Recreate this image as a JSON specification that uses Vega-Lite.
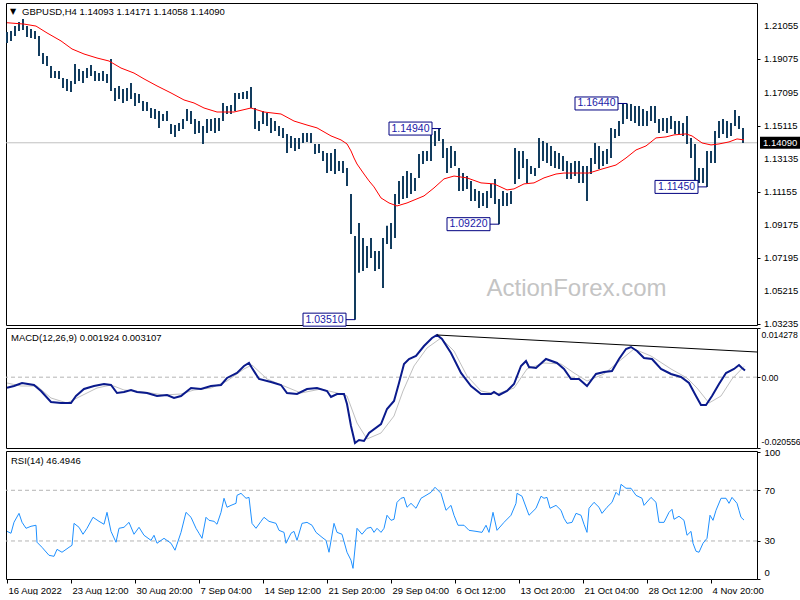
{
"$schema":"https://vega.github.io/schema/vega-lite/v6.json",
"padding":{"left":2,"top":2,"right":0,"bottom":0},
"spacing":3,
"bounds":"flush",
"background":"white",
"config":{"font":"Liberation Sans","view":{"stroke":"#000000","strokeWidth":1},
"axis":{"labelFont":"Liberation Sans","labelFontSize":9.5,"labelColor":"#000000","tickColor":"#000000","domain":false,"grid":false,"tickSize":3,"labelPadding":4,"labelOverlap":false}},
"datasets":{
"yt":[{"v":1.03235},{"v":1.05215},{"v":1.07195},{"v":1.09175},{"v":1.11155},{"v":1.13135},{"v":1.15115},{"v":1.17095},{"v":1.19075},{"v":1.21055}],
"px":[
{"i":0,"h":1.2072,"l":1.2006},{"i":2,"h":1.2078,"l":1.2018},{"i":4,"h":1.2107,"l":1.2048},{"i":6,"h":1.2131,"l":1.2078},{"i":8,"h":1.2149,"l":1.2084},{"i":10,"h":1.2107,"l":1.2042},{"i":12,"h":1.2090,"l":1.2036},{"i":14,"h":1.2078,"l":1.2030},{"i":16,"h":1.2048,"l":1.1928},{"i":18,"h":1.1946,"l":1.1880},
{"i":20,"h":1.1928,"l":1.1868},{"i":22,"h":1.1868,"l":1.1797},{"i":24,"h":1.1838,"l":1.1797},{"i":26,"h":1.1838,"l":1.1791},{"i":28,"h":1.1797,"l":1.1737},{"i":30,"h":1.1791,"l":1.1719},{"i":32,"h":1.1779,"l":1.1713},{"i":34,"h":1.1880,"l":1.1761},{"i":36,"h":1.1850,"l":1.1779},{"i":38,"h":1.1838,"l":1.1767},
{"i":40,"h":1.1856,"l":1.1797},{"i":42,"h":1.1874,"l":1.1808},{"i":44,"h":1.1838,"l":1.1779},{"i":46,"h":1.1826,"l":1.1779},{"i":48,"h":1.1838,"l":1.1779},{"i":50,"h":1.1820,"l":1.1767},{"i":52,"h":1.1910,"l":1.1719},{"i":54,"h":1.1737,"l":1.1659},{"i":56,"h":1.1749,"l":1.1671},{"i":58,"h":1.1731,"l":1.1647},
{"i":60,"h":1.1737,"l":1.1659},{"i":62,"h":1.1767,"l":1.1671},{"i":64,"h":1.1707,"l":1.1629},{"i":66,"h":1.1701,"l":1.1647},{"i":68,"h":1.1659,"l":1.1599},{"i":70,"h":1.1653,"l":1.1599},{"i":72,"h":1.1617,"l":1.1557},{"i":74,"h":1.1611,"l":1.1551},{"i":76,"h":1.1599,"l":1.1498},{"i":78,"h":1.1581,"l":1.1539},
{"i":80,"h":1.1599,"l":1.1539},{"i":82,"h":1.1521,"l":1.1462},{"i":84,"h":1.1515,"l":1.1444},{"i":86,"h":1.1527,"l":1.1480},{"i":88,"h":1.1551,"l":1.1492},{"i":90,"h":1.1611,"l":1.1539},{"i":92,"h":1.1599,"l":1.1521},{"i":94,"h":1.1551,"l":1.1462},{"i":96,"h":1.1539,"l":1.1468},{"i":98,"h":1.1509,"l":1.1402},
{"i":100,"h":1.1551,"l":1.1468},{"i":102,"h":1.1551,"l":1.1480},{"i":104,"h":1.1557,"l":1.1468},{"i":106,"h":1.1557,"l":1.1480},{"i":108,"h":1.1647,"l":1.1539},{"i":110,"h":1.1629,"l":1.1581},{"i":112,"h":1.1635,"l":1.1581},{"i":114,"h":1.1707,"l":1.1599},{"i":116,"h":1.1707,"l":1.1671},{"i":118,"h":1.1713,"l":1.1671},
{"i":120,"h":1.1719,"l":1.1671},{"i":122,"h":1.1743,"l":1.1617},{"i":124,"h":1.1617,"l":1.1492},{"i":126,"h":1.1539,"l":1.1480},{"i":128,"h":1.1599,"l":1.1521},{"i":130,"h":1.1587,"l":1.1509},{"i":132,"h":1.1557,"l":1.1468},{"i":134,"h":1.1539,"l":1.1480},{"i":136,"h":1.1509,"l":1.1450},{"i":138,"h":1.1498,"l":1.1438},
{"i":140,"h":1.1462,"l":1.1348},{"i":142,"h":1.1450,"l":1.1378},{"i":144,"h":1.1438,"l":1.1360},{"i":146,"h":1.1438,"l":1.1372},{"i":148,"h":1.1468,"l":1.1408},{"i":150,"h":1.1468,"l":1.1414},{"i":152,"h":1.1468,"l":1.1408},{"i":154,"h":1.1402,"l":1.1342},{"i":156,"h":1.1402,"l":1.1348},{"i":158,"h":1.1360,"l":1.1300},
{"i":160,"h":1.1348,"l":1.1228},{"i":162,"h":1.1348,"l":1.1240},{"i":164,"h":1.1372,"l":1.1222},{"i":166,"h":1.1300,"l":1.1240},{"i":168,"h":1.1300,"l":1.1228},{"i":170,"h":1.1258,"l":1.1151},{"i":172,"h":1.1103,"l":1.0864},{"i":174,"h":1.0852,"l":1.0351},{"i":176,"h":1.0929,"l":1.0631},{"i":178,"h":1.0840,"l":1.0642},
{"i":180,"h":1.0792,"l":1.0660},{"i":182,"h":1.0840,"l":1.0720},{"i":184,"h":1.0762,"l":1.0642},{"i":186,"h":1.0762,"l":1.0654},{"i":188,"h":1.0840,"l":1.0541},{"i":190,"h":1.0912,"l":1.0804},{"i":192,"h":1.0929,"l":1.0774},{"i":194,"h":1.1103,"l":1.0840},{"i":196,"h":1.1181,"l":1.1043},{"i":198,"h":1.1210,"l":1.1073},
{"i":200,"h":1.1240,"l":1.1079},{"i":202,"h":1.1228,"l":1.1103},{"i":204,"h":1.1199,"l":1.1121},{"i":206,"h":1.1342,"l":1.1199},{"i":208,"h":1.1360,"l":1.1282},{"i":210,"h":1.1360,"l":1.1300},{"i":212,"h":1.1480,"l":1.1300},{"i":214,"h":1.1480,"l":1.1390},{"i":216,"h":1.1494,"l":1.1420},{"i":218,"h":1.1432,"l":1.1318},
{"i":220,"h":1.1378,"l":1.1228},{"i":222,"h":1.1390,"l":1.1258},{"i":224,"h":1.1360,"l":1.1270},{"i":226,"h":1.1258,"l":1.1121},{"i":228,"h":1.1228,"l":1.1121},{"i":230,"h":1.1210,"l":1.1133},{"i":232,"h":1.1181,"l":1.1061},{"i":234,"h":1.1133,"l":1.1061},{"i":236,"h":1.1121,"l":1.1019},{"i":238,"h":1.1109,"l":1.1031},
{"i":240,"h":1.1121,"l":1.1019},{"i":242,"h":1.1163,"l":1.1079},{"i":244,"h":1.1193,"l":1.1043},{"i":246,"h":1.1073,"l":1.0922},{"i":248,"h":1.1121,"l":1.1031},{"i":250,"h":1.1109,"l":1.1031},{"i":252,"h":1.1121,"l":1.1043},{"i":254,"h":1.1378,"l":1.1163},{"i":256,"h":1.1360,"l":1.1193},{"i":258,"h":1.1360,"l":1.1258},
{"i":260,"h":1.1312,"l":1.1169},{"i":262,"h":1.1270,"l":1.1222},{"i":264,"h":1.1258,"l":1.1210},{"i":266,"h":1.1438,"l":1.1258},{"i":268,"h":1.1420,"l":1.1300},{"i":270,"h":1.1408,"l":1.1288},{"i":272,"h":1.1390,"l":1.1270},{"i":274,"h":1.1360,"l":1.1258},{"i":276,"h":1.1348,"l":1.1252},{"i":278,"h":1.1330,"l":1.1240},
{"i":280,"h":1.1300,"l":1.1193},{"i":282,"h":1.1288,"l":1.1193},{"i":284,"h":1.1300,"l":1.1210},{"i":286,"h":1.1300,"l":1.1169},{"i":288,"h":1.1270,"l":1.1169},{"i":290,"h":1.1270,"l":1.1061},{"i":292,"h":1.1318,"l":1.1222},{"i":294,"h":1.1408,"l":1.1282},{"i":296,"h":1.1390,"l":1.1252},{"i":298,"h":1.1360,"l":1.1270},
{"i":300,"h":1.1372,"l":1.1282},{"i":302,"h":1.1498,"l":1.1318},{"i":304,"h":1.1492,"l":1.1438},{"i":306,"h":1.1539,"l":1.1450},{"i":308,"h":1.1641,"l":1.1521},{"i":310,"h":1.1644,"l":1.1551},{"i":312,"h":1.1641,"l":1.1539},{"i":314,"h":1.1629,"l":1.1527},{"i":316,"h":1.1629,"l":1.1509},{"i":318,"h":1.1611,"l":1.1509},
{"i":320,"h":1.1599,"l":1.1509},{"i":322,"h":1.1629,"l":1.1539},{"i":324,"h":1.1629,"l":1.1527},{"i":326,"h":1.1551,"l":1.1468},{"i":328,"h":1.1557,"l":1.1480},{"i":330,"h":1.1557,"l":1.1468},{"i":332,"h":1.1569,"l":1.1492},{"i":334,"h":1.1539,"l":1.1462},{"i":336,"h":1.1539,"l":1.1462},{"i":338,"h":1.1527,"l":1.1450},
{"i":340,"h":1.1569,"l":1.1402},{"i":342,"h":1.1438,"l":1.1318},{"i":344,"h":1.1402,"l":1.1181},{"i":346,"h":1.1258,"l":1.1169},{"i":348,"h":1.1258,"l":1.1169},{"i":350,"h":1.1360,"l":1.1145},{"i":352,"h":1.1360,"l":1.1288},{"i":354,"h":1.1480,"l":1.1288},{"i":356,"h":1.1539,"l":1.1438},{"i":358,"h":1.1551,"l":1.1462},
{"i":360,"h":1.1539,"l":1.1438},{"i":362,"h":1.1527,"l":1.1450},{"i":364,"h":1.1605,"l":1.1509},{"i":366,"h":1.1569,"l":1.1492},{"i":368,"h":1.1498,"l":1.1408}
],
"ma":[
{"i":0,"m":1.2127},{"i":8.5,"m":1.2119},{"i":14.5,"m":1.2107},{"i":20,"m":1.2066},{"i":27,"m":1.2018},{"i":32.5,"m":1.1970},{"i":38.5,"m":1.1940},{"i":45,"m":1.1916},{"i":51,"m":1.1898},{"i":57,"m":1.1856},{"i":63.5,"m":1.1826},{"i":68.5,"m":1.1791},{"i":75,"m":1.1749},{"i":82,"m":1.1707},{"i":88.5,"m":1.1665},{"i":93.5,"m":1.1647},{"i":98.5,"m":1.1617},{"i":105,"m":1.1593},{"i":113.5,"m":1.1593},{"i":122,"m":1.1617},{"i":128.5,"m":1.1593},{"i":137,"m":1.1581},{"i":143.5,"m":1.1539},{"i":150,"m":1.1515},{"i":155,"m":1.1498},{"i":162,"m":1.1450},{"i":167,"m":1.1426},{"i":170,"m":1.1402},{"i":172,"m":1.1360},{"i":173.5,"m":1.1318},{"i":175,"m":1.1282},{"i":178.5,"m":1.1222},{"i":181,"m":1.1181},{"i":183.5,"m":1.1145},{"i":187,"m":1.1079},{"i":191,"m":1.1049},{"i":195,"m":1.1031},{"i":200,"m":1.1049},{"i":208.5,"m":1.1091},{"i":213.5,"m":1.1139},{"i":218.5,"m":1.1193},{"i":223.5,"m":1.1210},{"i":230,"m":1.1199},{"i":237,"m":1.1169},{"i":243.5,"m":1.1163},{"i":250,"m":1.1127},{"i":253.5,"m":1.1133},{"i":258.5,"m":1.1163},{"i":263.5,"m":1.1169},{"i":268.5,"m":1.1199},{"i":274.5,"m":1.1222},{"i":278.5,"m":1.1228},{"i":291,"m":1.1228},{"i":297.5,"m":1.1252},{"i":304.5,"m":1.1276},{"i":309.5,"m":1.1318},{"i":314.5,"m":1.1366},{"i":319.5,"m":1.1390},{"i":324.5,"m":1.1438},{"i":329.5,"m":1.1444},{"i":333.5,"m":1.1456},{"i":339.5,"m":1.1462},{"i":342.5,"m":1.1450},{"i":347.5,"m":1.1408},{"i":352,"m":1.1396},{"i":356,"m":1.1402},{"i":361,"m":1.1414},{"i":365,"m":1.1432},{"i":368.5,"m":1.1426}
],
"ann":[
{"lbl":"1.03510","p":1.0351,"ib":174},{"lbl":"1.14940","p":1.1494,"ib":217},{"lbl":"1.09220","p":1.0922,"ib":246},{"lbl":"1.16440","p":1.1644,"ib":310},{"lbl":"1.11450","p":1.1145,"ib":350}
],
"macd":[
{"i":0,"v":-0.00305},{"i":3.5,"v":-0.00256},{"i":7.5,"v":-0.00169},{"i":13.5,"v":-0.00227},{"i":17,"v":-0.00401},{"i":22,"v":-0.0072},{"i":27,"v":-0.00749},{"i":32,"v":-0.00749},{"i":34.5,"v":-0.00546},{"i":38.5,"v":-0.00343},{"i":43.5,"v":-0.00256},{"i":48.5,"v":-0.00198},{"i":52,"v":-0.00227},{"i":55,"v":-0.00459},{"i":58.5,"v":-0.0043},{"i":62,"v":-0.00372},{"i":65,"v":-0.0043},{"i":70,"v":-0.00459},{"i":75,"v":-0.00546},{"i":80,"v":-0.00517},{"i":83.5,"v":-0.00604},{"i":87,"v":-0.00546},{"i":92,"v":-0.00314},{"i":97,"v":-0.00343},{"i":102,"v":-0.00256},{"i":107,"v":-0.00227},{"i":110,"v":-0.00023},{"i":115,"v":0.00122},{"i":118.5,"v":0.00325},{"i":121,"v":0.00412},{"i":122.5,"v":0.00267},{"i":126,"v":-0.00052},{"i":132,"v":-0.0014},{"i":137,"v":-0.00227},{"i":140,"v":-0.00459},{"i":145,"v":-0.00488},{"i":150,"v":-0.00343},{"i":155,"v":-0.00314},{"i":160,"v":-0.00401},{"i":162,"v":-0.00575},{"i":165,"v":-0.00488},{"i":168.5,"v":-0.00488},{"i":170,"v":-0.00778},{"i":172,"v":-0.01417},{"i":174,"v":-0.0191},{"i":176,"v":-0.01823},{"i":178.5,"v":-0.01852},{"i":181,"v":-0.0162},{"i":187,"v":-0.01359},{"i":190,"v":-0.00923},{"i":193.5,"v":-0.00691},{"i":196,"v":-0.00169},{"i":198.5,"v":0.00383},{"i":201,"v":0.00528},{"i":204.5,"v":0.00615},{"i":208.5,"v":0.00905},{"i":212.5,"v":0.01137},{"i":215,"v":0.01225},{"i":217.5,"v":0.01109},{"i":222,"v":0.00702},{"i":227,"v":0.00122},{"i":232,"v":-0.00256},{"i":237,"v":-0.00488},{"i":242,"v":-0.00488},{"i":243.5,"v":-0.0043},{"i":246,"v":-0.00517},{"i":250,"v":-0.00401},{"i":253.5,"v":-0.00198},{"i":257,"v":0.00325},{"i":259.5,"v":0.0047},{"i":261,"v":0.00296},{"i":264.5,"v":0.00267},{"i":269.5,"v":0.00528},{"i":275,"v":0.00412},{"i":278.5,"v":0.00238},{"i":282,"v":-0.00052},{"i":286,"v":-0.00052},{"i":290,"v":-0.00256},{"i":294.5,"v":0.00093},{"i":298.5,"v":0.00151},{"i":302.5,"v":0.0018},{"i":306,"v":0.00528},{"i":309.5,"v":0.00818},{"i":312,"v":0.00876},{"i":315,"v":0.0076},{"i":318.5,"v":0.00557},{"i":322.5,"v":0.00528},{"i":327,"v":0.00238},{"i":332,"v":0.00093},{"i":337,"v":0.00005},{"i":341,"v":-0.00169},{"i":344.5,"v":-0.00546},{"i":347,"v":-0.00807},{"i":349.5,"v":-0.00807},{"i":352.5,"v":-0.00546},{"i":356,"v":-0.00198},{"i":359.5,"v":0.00122},{"i":363.5,"v":0.00238},{"i":366,"v":0.00354},{"i":367.5,"v":0.00267},{"i":369,"v":0.00192}
],
"sig":[
{"i":0,"s":-0.00169},{"i":7,"s":-0.00256},{"i":15,"s":-0.00256},{"i":22,"s":-0.00604},{"i":30,"s":-0.00749},{"i":37,"s":-0.00546},{"i":45,"s":-0.00314},{"i":52,"s":-0.00227},{"i":58.5,"s":-0.00372},{"i":68.5,"s":-0.0043},{"i":78.5,"s":-0.00517},{"i":87,"s":-0.00488},{"i":93.5,"s":-0.00372},{"i":102,"s":-0.00314},{"i":110,"s":-0.00111},{"i":118.5,"s":0.00238},{"i":122.5,"s":0.00354},{"i":130,"s":-0.00052},{"i":138.5,"s":-0.00256},{"i":147,"s":-0.00459},{"i":157,"s":-0.00343},{"i":165,"s":-0.00459},{"i":170,"s":-0.00546},{"i":175,"s":-0.0133},{"i":180,"s":-0.01794},{"i":187,"s":-0.0162},{"i":193.5,"s":-0.01127},{"i":198,"s":-0.00401},{"i":203.5,"s":0.00325},{"i":210,"s":0.00847},{"i":217,"s":0.01137},{"i":223.5,"s":0.0076},{"i":230,"s":0.00035},{"i":237,"s":-0.00401},{"i":245,"s":-0.00488},{"i":253.5,"s":-0.00314},{"i":260,"s":0.00238},{"i":268.5,"s":0.00412},{"i":277,"s":0.00383},{"i":283.5,"s":0.00122},{"i":290,"s":-0.00111},{"i":298.5,"s":0.00093},{"i":305,"s":0.00412},{"i":313.5,"s":0.00818},{"i":322,"s":0.00615},{"i":332,"s":0.00238},{"i":340,"s":-0.00023},{"i":345,"s":-0.00314},{"i":351,"s":-0.00749},{"i":357,"s":-0.00546},{"i":362.5,"s":-0.00052},{"i":368.5,"s":0.00311}
],
"tl":[{"i":215,"t":0.01225},{"i":375,"t":0.00731}],
"lev":[{"lv":30},{"lv":70}],
"rsi":[
{"i":0,"r":37.6},{"i":2,"r":36.1},{"i":3.5,"r":44.8},{"i":6,"r":51.8},{"i":7.5,"r":44.8},{"i":9.5,"r":40.0},{"i":12,"r":41.6},{"i":14.5,"r":42.4},{"i":15,"r":29.0},{"i":17.5,"r":25.0},{"i":21,"r":18.7},{"i":23.5,"r":17.9},{"i":25,"r":23.4},{"i":27.5,"r":21.1},{"i":31,"r":25.0},{"i":32.5,"r":26.6},{"i":33.5,"r":43.9},{"i":36,"r":40.8},{"i":38,"r":35.3},{"i":40,"r":40.0},{"i":43,"r":48.7},{"i":46,"r":45.5},{"i":48.5,"r":43.2},{"i":50,"r":52.6},{"i":52,"r":37.6},{"i":54.5,"r":29.0},{"i":56,"r":40.0},{"i":58.5,"r":40.8},{"i":61,"r":44.7},{"i":63.5,"r":35.3},{"i":66,"r":40.8},{"i":68.5,"r":34.5},{"i":72,"r":30.5},{"i":73.5,"r":34.5},{"i":75,"r":28.2},{"i":78.5,"r":32.1},{"i":82,"r":28.2},{"i":84,"r":22.7},{"i":87,"r":36.8},{"i":89.5,"r":52.6},{"i":92,"r":48.7},{"i":94.5,"r":40.0},{"i":96,"r":36.1},{"i":97.5,"r":32.1},{"i":99.5,"r":48.7},{"i":101,"r":46.3},{"i":103.5,"r":45.5},{"i":105,"r":43.2},{"i":107,"r":52.6},{"i":108.5,"r":63.7},{"i":110,"r":56.6},{"i":112,"r":58.1},{"i":114.5,"r":59.7},{"i":115,"r":66.0},{"i":117,"r":67.6},{"i":119.5,"r":63.7},{"i":121,"r":64.4},{"i":122.5,"r":43.9},{"i":124.5,"r":40.0},{"i":127,"r":45.5},{"i":128.5,"r":48.7},{"i":131,"r":45.5},{"i":134.5,"r":43.9},{"i":136,"r":38.4},{"i":138.5,"r":36.8},{"i":139.5,"r":28.2},{"i":142,"r":36.1},{"i":143.5,"r":37.6},{"i":145,"r":30.5},{"i":147.5,"r":43.9},{"i":150,"r":44.7},{"i":152.5,"r":42.4},{"i":154.5,"r":36.8},{"i":157.5,"r":32.9},{"i":159.5,"r":30.5},{"i":161,"r":21.1},{"i":163.5,"r":43.9},{"i":165,"r":36.8},{"i":167.5,"r":35.3},{"i":170,"r":21.1},{"i":172,"r":14.8},{"i":173,"r":8.4},{"i":175,"r":40.0},{"i":177.5,"r":35.3},{"i":180,"r":40.0},{"i":182,"r":40.8},{"i":183.5,"r":36.8},{"i":185,"r":40.0},{"i":187,"r":36.8},{"i":188.5,"r":40.0},{"i":190,"r":50.3},{"i":192,"r":46.3},{"i":193.5,"r":47.1},{"i":195,"r":60.5},{"i":197,"r":63.7},{"i":198.5,"r":64.4},{"i":200,"r":56.6},{"i":202,"r":59.7},{"i":204.5,"r":55.8},{"i":207,"r":63.7},{"i":209.5,"r":66.0},{"i":212,"r":68.4},{"i":214,"r":72.4},{"i":217,"r":67.6},{"i":219.5,"r":54.2},{"i":222,"r":58.1},{"i":223.5,"r":50.3},{"i":225.5,"r":42.4},{"i":228.5,"r":42.4},{"i":231,"r":38.4},{"i":234.5,"r":37.6},{"i":237.5,"r":36.8},{"i":239.5,"r":42.4},{"i":241,"r":36.8},{"i":243,"r":52.6},{"i":245,"r":38.4},{"i":248.5,"r":44.7},{"i":252,"r":50.3},{"i":254.5,"r":59.7},{"i":255,"r":67.6},{"i":257.5,"r":65.3},{"i":261,"r":50.3},{"i":264.5,"r":55.8},{"i":267,"r":65.3},{"i":268.5,"r":63.7},{"i":270,"r":64.4},{"i":271.5,"r":55.8},{"i":274.5,"r":58.1},{"i":277,"r":54.2},{"i":278.5,"r":47.9},{"i":280,"r":43.9},{"i":282.5,"r":44.7},{"i":284.5,"r":51.8},{"i":287,"r":50.3},{"i":288.5,"r":43.2},{"i":290,"r":36.8},{"i":291,"r":55.8},{"i":293.5,"r":60.5},{"i":296,"r":56.6},{"i":297.5,"r":51.8},{"i":300,"r":56.6},{"i":302.5,"r":60.5},{"i":304.5,"r":68.4},{"i":306,"r":66.0},{"i":307,"r":74.7},{"i":309.5,"r":71.6},{"i":312,"r":71.6},{"i":314.5,"r":66.0},{"i":317.5,"r":63.7},{"i":318.5,"r":58.1},{"i":322,"r":64.4},{"i":324.5,"r":60.5},{"i":326,"r":44.7},{"i":328.5,"r":44.7},{"i":331,"r":52.6},{"i":332.5,"r":55.0},{"i":333.5,"r":47.1},{"i":336,"r":49.5},{"i":338.5,"r":46.3},{"i":340,"r":34.5},{"i":342,"r":37.6},{"i":343,"r":28.2},{"i":344.5,"r":21.9},{"i":346,"r":21.1},{"i":348,"r":28.2},{"i":350,"r":32.1},{"i":351.5,"r":50.3},{"i":353,"r":46.3},{"i":354.5,"r":54.2},{"i":357,"r":63.7},{"i":359.5,"r":63.7},{"i":361,"r":59.7},{"i":362.5,"r":64.4},{"i":365,"r":59.7},{"i":366,"r":54.2},{"i":367,"r":48.7},{"i":368.5,"r":46.5}
]
},
"vconcat":[
{"width":751,"height":322,
"layer":[
{"data":{"values":[{}]},"mark":{"type":"rule","color":"#c0c0c0","strokeWidth":1},"encoding":{"y":{"datum":1.1409,"type":"quantitative"}}},
{"data":{"name":"px"},"mark":{"type":"rule","color":"#123c5e","strokeWidth":2},
"encoding":{"x":{"field":"i","type":"quantitative","scale":{"domain":[-0.5,375],"nice":false,"zero":false},"axis":null},
"y":{"field":"h","type":"quantitative","scale":{"domain":[1.0319,1.2245],"nice":false,"zero":false},"axis":{"orient":"right","title":null,"values":[1.03235,1.05215,1.07195,1.09175,1.11155,1.13135,1.15115,1.17095,1.19075,1.21055],"labels":false}},
"y2":{"field":"l"}}},
{"data":{"name":"yt"},"mark":{"type":"text","font":"Liberation Sans","fontSize":9.5,"color":"#000000","align":"left","baseline":"middle","dx":7},"encoding":{"x":{"datum":375,"type":"quantitative","axis":null},"y":{"field":"v","type":"quantitative"},"text":{"field":"v","type":"quantitative","format":".5f"}}},
{"data":{"name":"ma"},"mark":{"type":"line","color":"#ff0000","strokeWidth":1},"encoding":{"x":{"field":"i","type":"quantitative","axis":null},"y":{"field":"m","type":"quantitative"}}},
{"data":{"name":"ann"},"mark":{"type":"rule","color":"#000080","strokeWidth":1,"xOffset":-9},"encoding":{"x":{"field":"ib","type":"quantitative","axis":null},"x2":{"field":"ib"},"y":{"field":"p","type":"quantitative"}}},
{"data":{"name":"ann"},"mark":{"type":"rect","fill":"#ffffff","stroke":"#000080","strokeWidth":1,"xOffset":-52,"x2Offset":-9,"yOffset":-6.5,"y2Offset":6.5},"encoding":{"x":{"field":"ib","type":"quantitative","axis":null},"x2":{"field":"ib"},"y":{"field":"p","type":"quantitative"},"y2":{"field":"p"}}},
{"data":{"name":"ann"},"mark":{"type":"text","font":"Liberation Sans","fontSize":10.5,"color":"#1a1aa8","align":"center","baseline":"middle","dx":-30.5},"encoding":{"x":{"field":"ib","type":"quantitative","axis":null},"y":{"field":"p","type":"quantitative"},"text":{"field":"lbl"}}},
{"data":{"values":[{}]},"mark":{"type":"text","font":"Liberation Sans","fontSize":24,"color":"#c4c4c4","align":"center","baseline":"middle","text":"ActionForex.com"},"encoding":{"x":{"datum":284.75,"type":"quantitative","axis":null},"y":{"datum":1.0537,"type":"quantitative"}}},
{"data":{"values":[{}]},"mark":{"type":"text","font":"DejaVu Sans","fontSize":8,"color":"#000000","align":"center","baseline":"middle","text":"▼"},"encoding":{"x":{"datum":3,"type":"quantitative","axis":null},"y":{"datum":1.2194,"type":"quantitative"}}},
{"data":{"values":[{}]},"mark":{"type":"text","font":"Liberation Sans","fontSize":9.5,"color":"#000000","align":"left","baseline":"middle","text":"GBPUSD,H4  1.14093 1.14171 1.14058 1.14090"},"encoding":{"x":{"datum":7.5,"type":"quantitative","axis":null},"y":{"datum":1.2194,"type":"quantitative"}}},
{"data":{"values":[{}]},"mark":{"type":"rect","fill":"#000000","xOffset":3,"x2Offset":44,"yOffset":-6,"y2Offset":6},"encoding":{"x":{"datum":375,"type":"quantitative","axis":null},"x2":{"datum":375},"y":{"datum":1.1409,"type":"quantitative"},"y2":{"datum":1.1409}}},
{"data":{"values":[{}]},"mark":{"type":"text","font":"Liberation Sans","fontSize":9.5,"color":"#ffffff","align":"left","baseline":"middle","dx":6,"text":"1.14090"},"encoding":{"x":{"datum":375,"type":"quantitative","axis":null},"y":{"datum":1.1409,"type":"quantitative"}}}
]},
{"width":751,"height":120,
"layer":[
{"data":{"values":[{}]},"mark":{"type":"rule","color":"#b4b4b4","strokeWidth":1,"strokeDash":[4,3]},"encoding":{"y":{"datum":0,"type":"quantitative"}}},
{"data":{"name":"sig"},"mark":{"type":"line","color":"#c0c0c0","strokeWidth":1},
"encoding":{"x":{"field":"i","type":"quantitative","scale":{"domain":[-0.5,375],"nice":false,"zero":false},"axis":null},
"y":{"field":"s","type":"quantitative","scale":{"domain":[-0.020556,0.014278],"nice":false,"zero":false},"axis":{"orient":"right","title":null,"values":[-0.020556,0,0.014278],"labelFontSize":8.7,"labelPadding":1,"labelFlush":true,"labelFlushOffset":-2,"labelOverlap":false,"labelExpr":"datum.value < 0 ? '-0.020556' : (datum.value > 0 ? '0.014278' : '0.00')"}}}},
{"data":{"name":"macd"},"mark":{"type":"line","color":"#0a1a8c","strokeWidth":2},"encoding":{"x":{"field":"i","type":"quantitative","axis":null},"y":{"field":"v","type":"quantitative"}}},
{"data":{"name":"tl"},"mark":{"type":"line","color":"#000000","strokeWidth":1},"encoding":{"x":{"field":"i","type":"quantitative","axis":null},"y":{"field":"t","type":"quantitative"}}},
{"data":{"values":[{}]},"mark":{"type":"text","font":"Liberation Sans","fontSize":9.5,"color":"#000000","align":"left","baseline":"middle","text":"MACD(12,26,9) 0.001924 0.003107"},"encoding":{"x":{"datum":2,"type":"quantitative","axis":null},"y":{"datum":0.01138,"type":"quantitative"}}}
]},
{"width":751,"height":128,
"layer":[
{"data":{"name":"lev"},"mark":{"type":"rule","color":"#b4b4b4","strokeWidth":1,"strokeDash":[4,3]},"encoding":{"y":{"field":"lv","type":"quantitative"}}},
{"data":{"name":"rsi"},"mark":{"type":"line","color":"#1e90ff","strokeWidth":1},
"encoding":{"x":{"field":"i","type":"quantitative","scale":{"domain":[-0.5,375],"nice":false,"zero":false},
"axis":{"orient":"bottom","title":null,"values":[0,32,64,96,128,160,192,224,256,288,320,352],"labelExpr":"['16 Aug 2022','23 Aug 12:00','30 Aug 20:00','7 Sep 04:00','14 Sep 12:00','21 Sep 20:00','29 Sep 04:00','6 Oct 12:00','13 Oct 20:00','21 Oct 04:00','28 Oct 12:00','4 Nov 20:00'][round(datum.value/32)]","labelAlign":"left","labelOffset":1,"labelPadding":2,"tickSize":4,"labelFlush":false,"labelBound":false,"labelOverlap":false}},
"y":{"field":"r","type":"quantitative","scale":{"domain":[0,101],"nice":false,"zero":false},"axis":{"orient":"right","title":null,"values":[0,30,70,100],"labelFlush":true,"labelFlushOffset":-2,"labelOverlap":false}}}},
{"data":{"values":[{}]},"mark":{"type":"text","font":"Liberation Sans","fontSize":9.5,"color":"#000000","align":"left","baseline":"middle","text":"RSI(14) 46.4946"},"encoding":{"x":{"datum":2,"type":"quantitative"},"y":{"datum":93.1,"type":"quantitative"}}}
]}
]
}
